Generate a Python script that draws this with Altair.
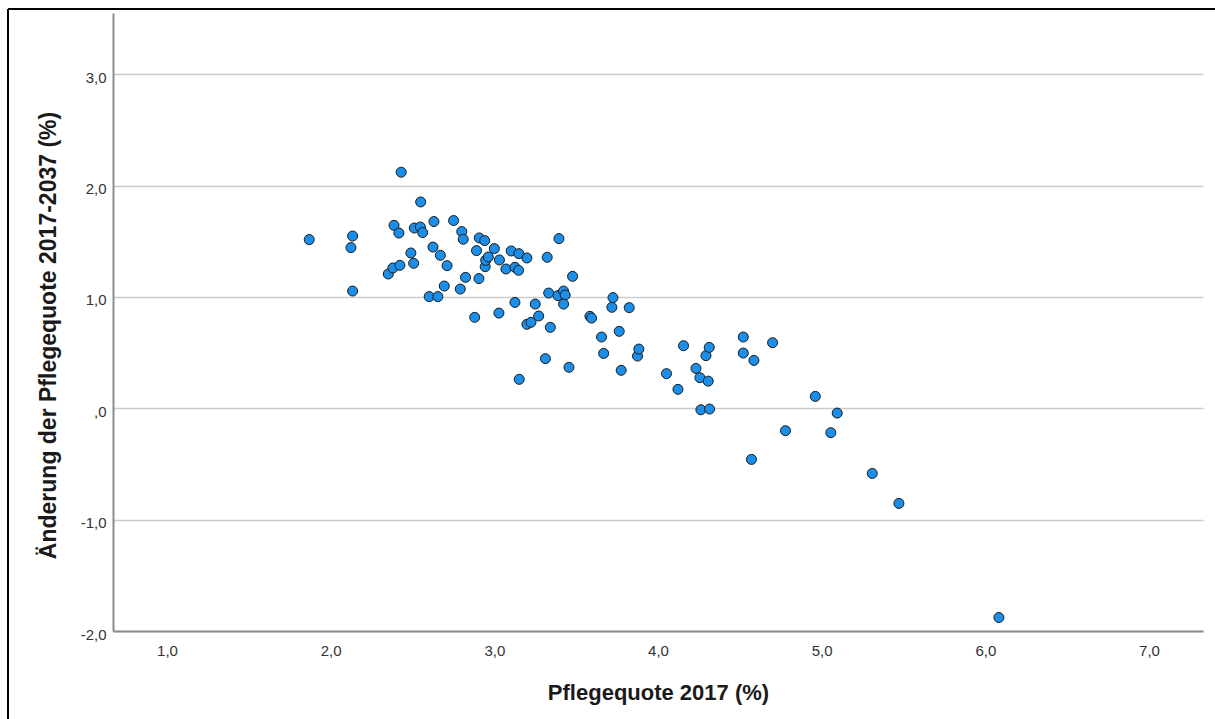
import altair as alt
import pandas as pd

# Pflegequote 2017 (%) — x values
pflegequote_2017 = [
    1.869, 2.134, 2.124, 2.134, 2.352, 2.380, 2.423, 2.387, 2.417, 2.431,
    2.490, 2.507, 2.511, 2.548, 2.562, 2.550, 2.602, 2.625, 2.631, 2.655,
    2.670, 2.711, 2.694, 2.751, 2.792, 2.801, 2.810, 2.824, 2.880, 2.891,
    2.906, 2.908, 2.941, 2.944, 2.947, 2.963, 3.000, 3.028, 3.031, 3.071,
    3.103, 3.126, 3.126, 3.148, 3.150, 3.152, 3.199, 3.199, 3.224, 3.250,
    3.271, 3.312, 3.323, 3.332, 3.342, 3.389, 3.395, 3.423, 3.433, 3.423,
    3.456, 3.478, 3.584, 3.594, 3.655, 3.668, 3.718, 3.725, 3.763, 3.775,
    3.824, 3.875, 3.883, 4.052, 4.122, 4.156, 4.232, 4.256, 4.262, 4.293,
    4.307, 4.313, 4.315, 4.521, 4.521, 4.571, 4.586, 4.700, 4.779, 4.961,
    5.056, 5.095, 5.309, 5.472, 6.083,
]

# Änderung der Pflegequote 2017-2037 (%) — y values
aenderung = [
    1.515, 1.547, 1.443, 1.053, 1.206, 1.260, 1.284, 1.643, 1.574, 2.120,
    1.395, 1.302, 1.619, 1.628, 1.578, 1.853, 1.003, 1.448, 1.677, 1.003,
    1.374, 1.281, 1.098, 1.686, 1.071, 1.587, 1.518, 1.176, 0.817, 1.416,
    1.165, 1.530, 1.506, 1.272, 1.329, 1.359, 1.434, 0.855, 1.332, 1.251,
    1.413, 1.266, 0.951, 1.239, 1.389, 0.260, 1.350, 0.754, 0.772, 0.936,
    0.829, 0.446, 1.356, 1.035, 0.727, 1.012, 1.524, 1.053, 1.017, 0.936,
    0.368, 1.185, 0.826, 0.810, 0.640, 0.493, 0.907, 0.994, 0.691, 0.341,
    0.904, 0.469, 0.532, 0.311, 0.170, 0.562, 0.358, 0.275, -0.013, 0.473,
    0.244, 0.547, -0.007, 0.640, 0.496, -0.459, 0.430, 0.589, -0.201, 0.107,
    -0.219, -0.043, -0.585, -0.854, -1.879,
]

x_ticks = [1, 2, 3, 4, 5, 6, 7]
y_ticks = [-2, -1, 0, 1, 2, 3]

x_title = "Pflegequote 2017 (%)"
y_title = "Änderung der Pflegequote 2017-2037 (%)"

df = pd.DataFrame({"x": pflegequote_2017, "y": aenderung})

label_expr = ("datum.value == 0 ? ',0' : (datum.value < 0 ? '-' : '') + "
              "replace(format(abs(datum.value), '.1f'), '.', ',')")

FONT = "Liberation Sans Narrow, Liberation Sans, Arial"

W, H = 1090, 618

points = alt.Chart(df).mark_circle(
    size=100, color="#1a8ee8", opacity=1, stroke="#1a1a1a", strokeWidth=1
).encode(
    x=alt.X("x:Q",
            scale=alt.Scale(domain=[0.67, 7.33], nice=False, zero=False),
            axis=alt.Axis(values=x_ticks, labelExpr=label_expr, grid=False,
                          ticks=False, domainColor="#8c8c8c", domainWidth=2,
                          labelFont=FONT, labelFontSize=15, labelColor="#333333",
                          labelPadding=12, labelBaseline="top",
                          title=x_title, titleFont=FONT, titleFontSize=22,
                          titleFontWeight="bold", titleColor="#1a1a1a",
                          titleX=545, titleY=61, titleBaseline="middle",
                          titleAlign="center", titleAnchor="start")),
    y=alt.Y("y:Q",
            scale=alt.Scale(domain=[-2.0, 3.55], nice=False, zero=False),
            axis=alt.Axis(values=y_ticks, labelExpr=label_expr, grid=True,
                          gridColor="#cccccc", gridWidth=1.5,
                          ticks=False, domainColor="#8c8c8c", domainWidth=2,
                          labelFont=FONT, labelFontSize=15, labelColor="#333333",
                          labelPadding=7, labelOffset=3,
                          title=y_title, titleFont=FONT, titleFontSize=23,
                          titleFontWeight="bold", titleColor="#1a1a1a",
                          titleAngle=-90, titleX=-65, titleY=322,
                          titleBaseline="middle", titleAlign="center",
                          titleAnchor="start")),
)

frame_left = alt.Chart(df).mark_rule(color="#000000", strokeWidth=2, clip=False).encode(
    x=alt.value(-105), y=alt.value(-4), y2=alt.value(720)
)
frame_top = alt.Chart(df).mark_rule(color="#000000", strokeWidth=2, clip=False).encode(
    x=alt.value(-105), x2=alt.value(1110), y=alt.value(-4)
)

chart = alt.layer(points, frame_left, frame_top).properties(
    width=W, height=H,
    autosize=alt.AutoSizeParams(type="none"),
    padding={"left": 113, "top": 13, "right": 12, "bottom": 88},
    background="white",
).configure_view(stroke=None)

chart.save("out.html", embed_options={"renderer": "svg", "actions": False})
